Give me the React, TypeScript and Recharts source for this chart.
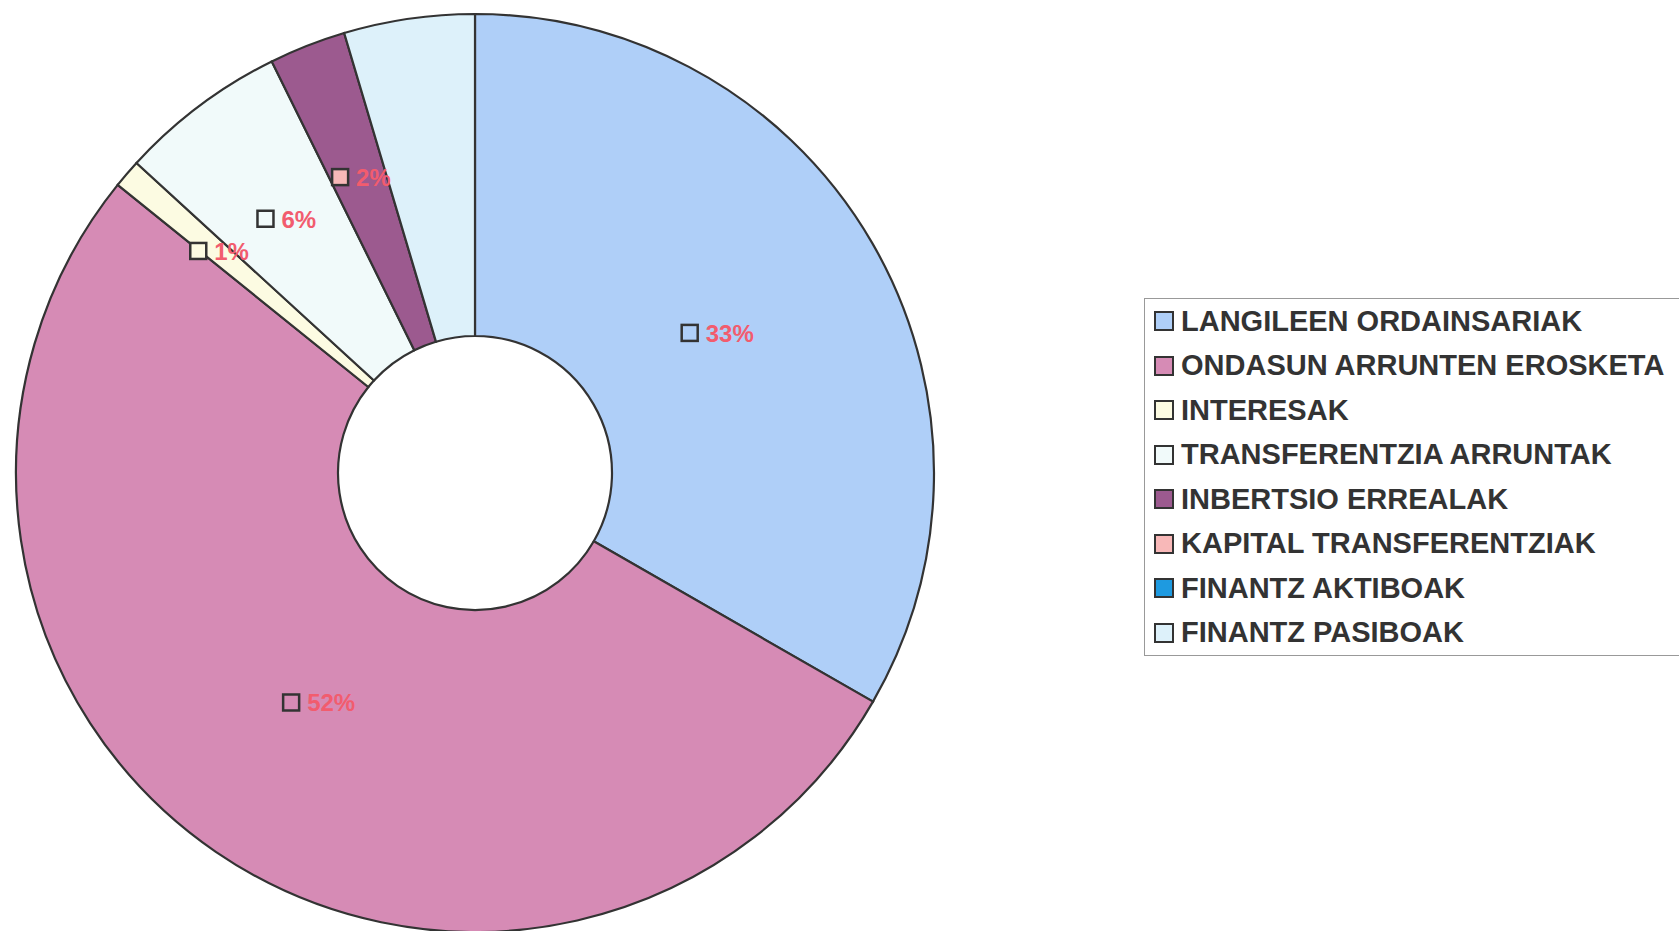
import { PieChart, Pie, Cell, Legend } from 'recharts';

const categories = [
  'LANGILEEN ORDAINSARIAK',
  'ONDASUN ARRUNTEN EROSKETA',
  'INTERESAK',
  'TRANSFERENTZIA ARRUNTAK',
  'INBERTSIO ERREALAK',
  'KAPITAL TRANSFERENTZIAK',
  'FINANTZ AKTIBOAK',
  'FINANTZ PASIBOAK',
];
const shares = [33.3, 52.5, 1.0, 5.9, 2.7, 0, 0, 4.6];
const pctLabels = ['33%', '52%', '1%', '6%', '2%', '', '', ''];
// legend key shown in each data label (the 2% one carries the kapital colour)
const labelKeyIndex = [0, 1, 2, 3, 5, -1, -1, -1];

const colors = ['#AFCFF8', '#D68BB5', '#FCFBE2', '#F1FAFA', '#9C5A8F', '#F8B8B8', '#1E9AE0', '#DDF1FA'];

const data = categories.map((name, i) => ({ name, value: shares[i] }));

const RAD = Math.PI / 180;
const FONT = "'Liberation Sans', Arial, sans-serif";

const renderLabel = (props: any) => {
  const { cx, cy, midAngle, innerRadius, outerRadius, index, value } = props;
  const text = pctLabels[index];
  if (!text) return null;
  // small slices get their labels pushed further out, like excel does
  const frac = value > 20 ? 0.44 : value < 2 ? 0.63 : 0.56;
  const r = innerRadius + (outerRadius - innerRadius) * frac;
  const x = cx + r * Math.cos(-midAngle * RAD);
  const y = cy + r * Math.sin(-midAngle * RAD);
  const keyColor = colors[labelKeyIndex[index]];
  const w = 18 + 6 + text.length * 15;
  const left = x - w / 2;
  return (
    <g>
      <rect x={left} y={y - 8.5} width={16} height={16} fill={keyColor} stroke="#333" strokeWidth={2.5} />
      <text x={left + 24} y={y + 8.5} fill="#F25C6E" fontSize={24} fontWeight="bold" fontFamily={FONT}>
        {text}
      </text>
    </g>
  );
};

const LegendBox = () => (
  <div style={{ border: '1px solid #999', background: '#fff', boxSizing: 'border-box', width: 536 }}>
    {categories.map((c, i) => (
      <div key={c} style={{ height: 44.5, display: 'flex', alignItems: 'center', paddingLeft: 9 }}>
        <span style={{ width: 16, height: 16, background: colors[i], border: '2.5px solid #333', display: 'inline-block', marginRight: 7, flexShrink: 0 }} />
        <span style={{ fontFamily: FONT, fontWeight: 'bold', fontSize: 29, color: '#333', whiteSpace: 'nowrap' }}>{c}</span>
      </div>
    ))}
  </div>
);

export default function App() {
  return (
    <div style={{ position: 'fixed', left: 0, top: 0, width: 1679, height: 931, overflow: 'hidden', background: '#fff' }}>
      <PieChart width={1679} height={931}>
        <Pie
          data={data}
          dataKey="value"
          nameKey="name"
          cx={470}
          cy={468}
          innerRadius={137}
          outerRadius={459}
          startAngle={90}
          endAngle={-270}
          stroke="#333"
          strokeWidth={2.2}
          label={renderLabel}
          labelLine={false}
          isAnimationActive={false}
        >
          {data.map((d, i) => (
            <Cell key={d.name} fill={colors[i]} />
          ))}
        </Pie>
        <Legend content={<LegendBox />} wrapperStyle={{ left: 1144, top: 298, width: 536 }} />
      </PieChart>
    </div>
  );
}
